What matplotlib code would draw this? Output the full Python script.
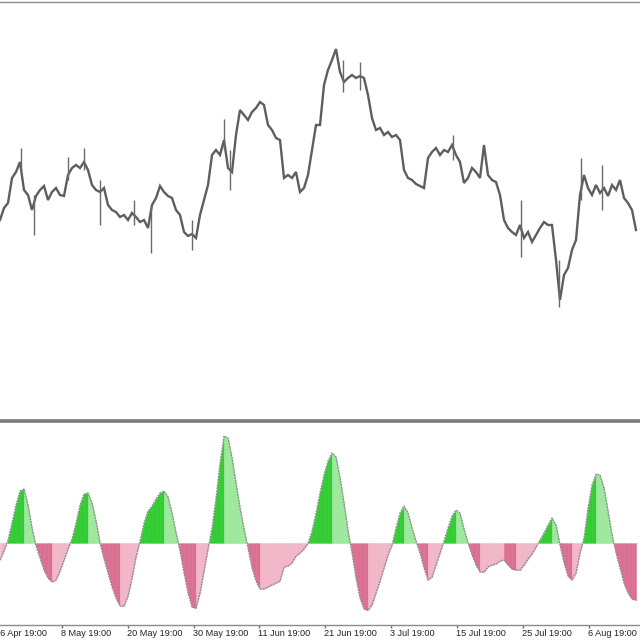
import numpy as np
import matplotlib
matplotlib.use("Agg")
import matplotlib.pyplot as plt
import matplotlib.transforms as mtransforms

# ---------------- data ----------------
# price (arbitrary units, higher = higher on chart), one sample every 4 bars
price = [
    201, 213, 218, 243, 249, 259, 231, 226, 211, 225,
    231, 235, 221, 229, 233, 226, 225, 246, 253, 256,
    253, 259, 251, 236, 231, 229, 233, 216, 211, 209,
    204, 206, 201, 208, 204, 199, 201, 193, 216, 223,
    235, 229, 225, 223, 211, 206, 189, 185, 187, 183,
    206, 221, 236, 266, 271, 266, 281, 253, 249, 286,
    311, 306, 301, 309, 313, 319, 316, 296, 291, 283,
    281, 243, 246, 243, 249, 229, 233, 246, 271, 296,
    296, 336, 351, 361, 372, 349, 339, 343, 346, 343,
    345, 343, 326, 303, 291, 293, 286, 289, 284, 286,
    281, 251, 243, 241, 237, 235, 233, 263, 269, 273,
    266, 271, 269, 276, 266, 259, 238, 243, 253, 249,
    243, 276, 246, 241, 239, 226, 201, 193, 189, 186,
    196, 183, 189, 179, 186, 193, 199, 196, 196, 161,
    121, 146, 153, 171, 181, 226, 246, 233, 226, 236,
    228, 233, 225, 236, 231, 241, 223, 218, 211, 191,
]
# wick spikes: bar index, high, low
spike_bar = [21, 34, 68, 84, 100, 134, 151, 192, 224, 230, 343, 360, 453, 521, 559, 581, 602]
spike_high = [273, 226, 264, 273, 241, 221, 216, 201, 302, 271, 361, 359, 286, 221, 161, 263, 256]
spike_low = [251, 186, 241, 251, 196, 196, 168, 171, 271, 231, 329, 331, 261, 164, 114, 221, 211]

# oscillator, one sample every 4 bars
osc = [
    -17, -8, 3, 20, 38, 52, 54, 38, 15, -3,
    -15, -27, -35, -39, -37, -28, -17, -6, 4, 20,
    38, 49, 50, 40, 22, 0, -16, -30, -44, -55,
    -63, -63, -53, -35, -14, 2, 20, 32, 37, 44,
    50, 52, 46, 30, 10, -8, -30, -50, -64, -65,
    -50, -28, -6, 15, 45, 80, 107, 105, 85, 60,
    35, 14, -5, -25, -38, -46, -46, -44, -42, -40,
    -38, -24, -23, -20, -13, -10, -6, 0, 12, 30,
    50, 68, 82, 90, 86, 65, 40, 12, -10, -35,
    -55, -66, -67, -62, -50, -38, -25, -12, -2, 15,
    30, 37, 30, 15, 2, -10, -25, -37, -34, -22,
    -10, 2, 15, 27, 33, 30, 14, 0, -12, -22,
    -29, -29, -24, -22, -21, -18, -17, -22, -26, -27,
    -27, -22, -16, -11, -4, 3, 10, 18, 25, 18,
    -2, -20, -33, -37, -30, -10, 5, 35, 58, 69,
    68, 55, 32, 8, -10, -25, -40, -50, -56, -57,
]

tick_labels = ["26 Apr 19:00", "8 May 19:00", "20 May 19:00", "30 May 19:00",
               "11 Jun 19:00", "21 Jun 19:00", "3 Jul 19:00", "15 Jul 19:00",
               "25 Jul 19:00", "6 Aug 19:00"]
tick_bars = [-4, 62, 128, 194, 259, 325, 391, 457, 523, 589]

# ---------------- styles ----------------
BAR_STEP = 4
GREEN_UP = "#32CD32"
GREEN_DN = "#9DE89D"
PINK_DN = "#DB7093"
PINK_UP = "#F2B6C9"
PRICE_C = "#5e5e5e"
FRAME_C = "#8c8c8c"

W, H = 640, 640
fig = plt.figure(figsize=(6.4, 6.4), dpi=100)
fig.patch.set_facecolor("white")

def rect(x0, y0, x1, y1):
    return [x0 / W, 1 - y1 / H, (x1 - x0) / W, (y1 - y0) / H]

ax1 = fig.add_axes(rect(0, 2, 640, 421))
ax2 = fig.add_axes(rect(0, 423, 640, 625))

xb = np.arange(len(price)) * BAR_STEP
xo = np.arange(len(osc)) * BAR_STEP

# ---- price panel ----
ax1.plot(xb, price, color=PRICE_C, lw=1.7, solid_joinstyle="miter")
ax1.vlines(spike_bar, spike_low, spike_high, color="#6a6a6a", lw=1.0)
ax1.set_xlim(0, 640)
ax1.set_ylim(0, 419)
ax1.set_xticks([])
ax1.set_yticks([])
for s in ["left", "right"]:
    ax1.spines[s].set_visible(False)
ax1.spines["top"].set_color(FRAME_C)
ax1.spines["top"].set_linewidth(1.0)
ax1.spines["bottom"].set_color("#7a7a7a")
ax1.spines["bottom"].set_linewidth(2.6)

# ---- oscillator panel ----
o = np.asarray(osc, dtype=float)
for i in range(len(o) - 1):
    x0, x1 = xo[i], xo[i + 1]
    y0, y1 = o[i], o[i + 1]
    rising = y1 >= y0
    def col(v):
        if v >= 0:
            return GREEN_UP if rising else GREEN_DN
        return PINK_UP if rising else PINK_DN
    if (y0 >= 0) == (y1 >= 0) or y0 == 0 or y1 == 0:
        v = y0 + y1
        c = col(v if v != 0 else (1 if max(y0, y1) > 0 else -1))
        ax2.fill_between([x0, x1], [y0, y1], 0, color=c, lw=0.4, edgecolor=c)
    else:
        xc = x0 + (x1 - x0) * (0 - y0) / (y1 - y0)
        c0 = col(y0)
        c1 = col(y1)
        ax2.fill_between([x0, xc], [y0, 0], 0, color=c0, lw=0.4, edgecolor=c0)
        ax2.fill_between([xc, x1], [0, y1], 0, color=c1, lw=0.4, edgecolor=c1)
ax2.plot(xo, o, color="#8a8a8a", lw=0.9, ls=(0, (1.5, 0.8)))
ax2.axhline(0, color="#d8d8d8", lw=0.6, ls=":")

ax2.set_xlim(0, 640)
ax2.set_ylim(-82, 120)
ax2.set_yticks([])
for s in ["left", "right", "top"]:
    ax2.spines[s].set_visible(False)
ax2.spines["bottom"].set_color(FRAME_C)
ax2.spines["bottom"].set_linewidth(1.0)
ax2.set_xticks([t for t in tick_bars if t >= 0])
ax2.set_xticklabels([])
ax2.tick_params(axis="x", length=2.5, width=1, color="#707070", direction="out")

trans = mtransforms.blended_transform_factory(ax2.transData, fig.transFigure)
for t, lab in zip(tick_bars, tick_labels):
    ax2.text(t - 1, 1 - 634 / H, lab, transform=trans, ha="left", va="center",
             fontsize=6.6, color="#222222", clip_on=False,
             family=["Liberation Sans", "DejaVu Sans"])

fig.savefig("out.png", dpi=100, facecolor="white")
